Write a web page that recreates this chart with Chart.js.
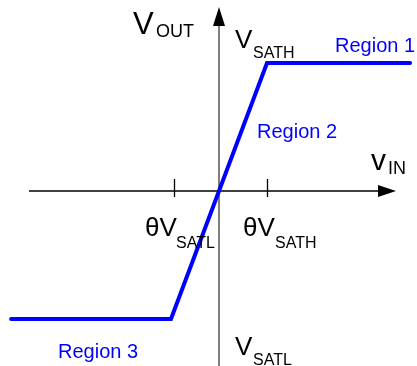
<!DOCTYPE html>
<html>
<head>
<meta charset="utf-8">
<script src="https://cdn.jsdelivr.net/npm/chart.js@4.4.1/dist/chart.umd.min.js"></script>
<style>
  html, body { margin: 0; padding: 0; background: #ffffff; }
  #chart { display: block; }
</style>
</head>
<body>
<canvas id="chart" width="417" height="366"></canvas>
<script>
'use strict'

//전달 특성 꺾은선 (입력 전압, 출력 전압)
const vinPoints = [-4.33, -1.0, 1.0, 3.98];
const voutPoints = [-1.0, -1.0, 1.0, 1.0];
//가로축 눈금 위치
const tickValues = [-0.94, 1.0];
//영역 이름
const regionNames = ['Region 1', 'Region 2', 'Region 3'];

const blue = '#0000ff';
const font = '"Liberation Sans", Arial, sans-serif';

//==================================================================================================

//글자 + 아래첨자
function drawSub(ctx, x0, y0, t){
	ctx.fillStyle = t.color || '#000000';
	ctx.textAlign = 'left';
	ctx.textBaseline = 'alphabetic';
	ctx.font = t.size + 'px ' + font;
	ctx.fillText(t.text, x0 + t.dx, y0 + t.dy);
	if(t.sub){
		ctx.font = t.subSize + 'px ' + font;
		ctx.fillText(t.sub, x0 + t.subDx, y0 + t.subDy);
	}
}

//화살표 머리
function arrowHead(ctx, x, y, dir){
	ctx.beginPath();
	if(dir == 'up'){
		ctx.moveTo(x, y);
		ctx.lineTo(x - 6, y + 19);
		ctx.lineTo(x + 6, y + 19);
	}
	else{
		ctx.moveTo(x, y);
		ctx.lineTo(x - 18, y - 6);
		ctx.lineTo(x - 18, y + 6);
	}
	ctx.closePath();
	ctx.fill();
}

const axesPlugin = {
	id: 'axesPlugin',
	beforeDatasetsDraw(chart){
		const ctx = chart.ctx;
		const xs = chart.scales.x;
		const ys = chart.scales.y;
		const x0 = xs.getPixelForValue(0);
		const y0 = ys.getPixelForValue(0);
		ctx.save();

		//세로축
		ctx.strokeStyle = '#555555';
		ctx.lineWidth = 1.5;
		ctx.beginPath();
		ctx.moveTo(x0, 20);
		ctx.lineTo(x0, chart.height);
		ctx.stroke();
		ctx.fillStyle = '#000000';
		arrowHead(ctx, x0, 7, 'up');

		//가로축
		ctx.strokeStyle = '#000000';
		ctx.lineWidth = 1.3;
		ctx.beginPath();
		ctx.moveTo(29, y0);
		ctx.lineTo(380, y0);
		ctx.stroke();
		arrowHead(ctx, 396, y0, 'right');

		//눈금
		tickValues.forEach((v) => {
			const px = Math.round(xs.getPixelForValue(v)) + 0.5;
			ctx.beginPath();
			ctx.moveTo(px, y0 - 12);
			ctx.lineTo(px, y0 + 6);
			ctx.stroke();
		});
		ctx.restore();
	},
	afterDraw(chart){
		const ctx = chart.ctx;
		const x0 = chart.scales.x.getPixelForValue(0);
		const y0 = chart.scales.y.getPixelForValue(0);
		const labels = [
			{ text: 'V', size: 31, dx: -86, dy: -157, sub: 'OUT', subSize: 18, subDx: -63, subDy: -154 },
			{ text: 'V', size: 26, dx: 16, dy: -143, sub: 'SATH', subSize: 16, subDx: 34, subDy: -133 },
			{ text: 'v', size: 30, dx: 152, dy: -21, sub: 'IN', subSize: 18, subDx: 169, subDy: -17 },
			{ text: 'θV', size: 26, dx: -74, dy: 45, sub: 'SATL', subSize: 16, subDx: -43, subDy: 57 },
			{ text: 'θV', size: 26, dx: 24, dy: 45, sub: 'SATH', subSize: 16, subDx: 56, subDy: 57 },
			{ text: 'V', size: 26, dx: 16, dy: 164, sub: 'SATL', subSize: 16, subDx: 34, subDy: 174 },
			{ text: regionNames[0], size: 20, dx: 116, dy: -139, color: blue },
			{ text: regionNames[1], size: 20, dx: 38, dy: -53, color: blue },
			{ text: regionNames[2], size: 20, dx: -161, dy: 167, color: blue }
		];
		ctx.save();
		labels.forEach((t) => drawSub(ctx, x0, y0, t));
		ctx.restore();
	}
};

new Chart(document.getElementById('chart'), {
	type: 'line',
	data: {
		datasets: [{
			data: vinPoints.map((v, i) => ({ x: v, y: voutPoints[i] })),
			borderColor: blue,
			borderWidth: 4,
			borderCapStyle: 'round',
			borderJoinStyle: 'miter',
			pointRadius: 0,
			tension: 0,
			fill: false
		}]
	},
	options: {
		responsive: false,
		animation: false,
		layout: { padding: 0 },
		plugins: { legend: { display: false }, tooltip: { enabled: false } },
		scales: {
			x: { type: 'linear', display: false, min: -219 / 48, max: 198 / 48 },
			y: { type: 'linear', display: false, min: -175 / 128, max: 191 / 128 }
		}
	},
	plugins: [axesPlugin]
});
</script>
</body>
</html>
